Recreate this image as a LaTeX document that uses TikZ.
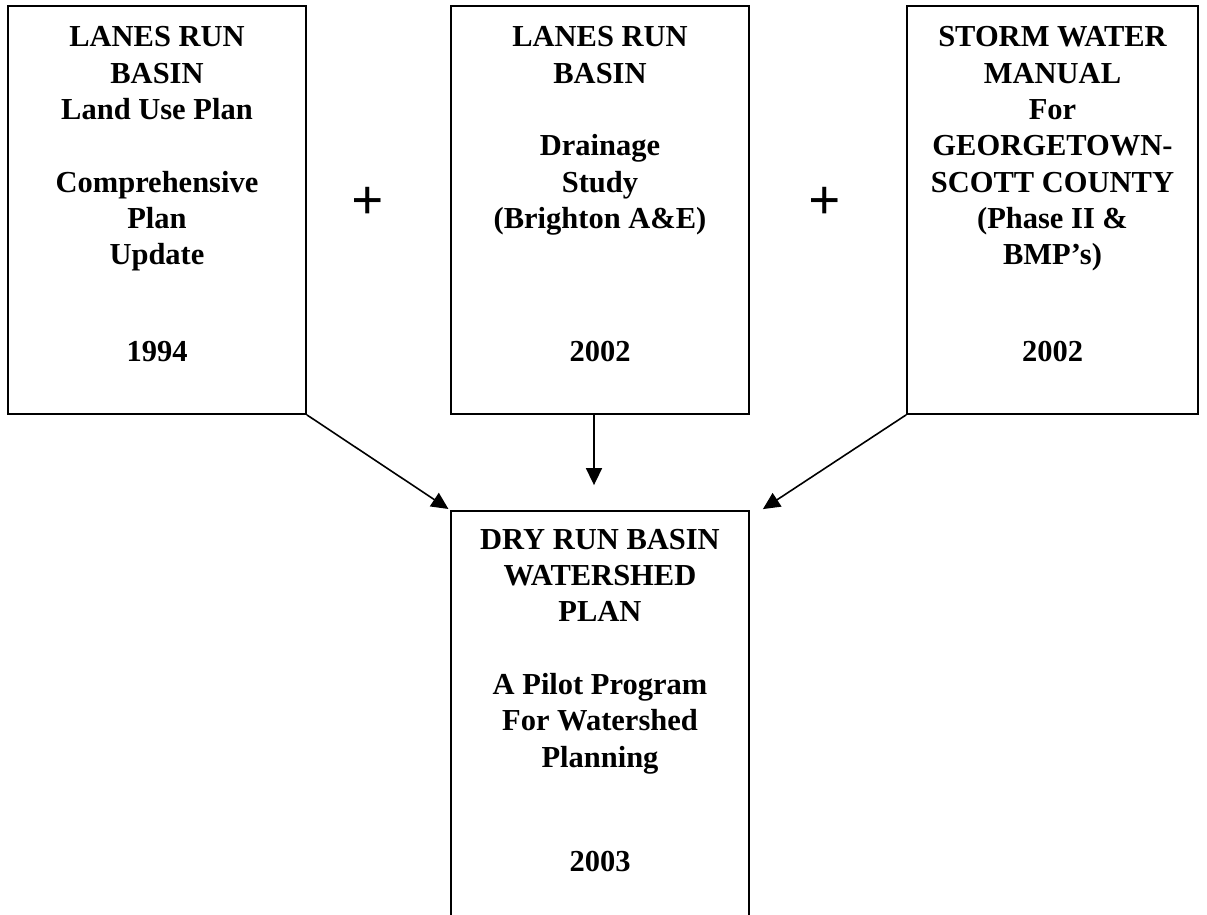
\documentclass[tikz,border=0pt]{standalone}
\usepackage{fontspec}
\setmainfont{Liberation Serif}
\usetikzlibrary{arrows.meta}
\newcommand{\planstrut}{\rule{0pt}{25pt}}

\begin{document}
\begin{tikzpicture}[x=1pt,y=1pt,
  planbox/.style={draw=black,line width=1.8pt,minimum width=298pt,minimum height=408pt,inner sep=0pt},
  plantext/.style={anchor=north,align=center,inner sep=0pt,font=\fontsize{30.5}{36.3}\selectfont\bfseries},
  planyear/.style={anchor=base,inner sep=0pt,font=\fontsize{30.5}{36.3}\selectfont\bfseries},
  plussign/.style={inner sep=0pt,font=\fontsize{57}{60}\selectfont\bfseries},
  feed/.style={-{Triangle[length=17pt,width=16pt]},line width=1.6pt}]
\clip (0,0) rectangle (1207,-915);
% the three sources
\node[planbox] (lanes) at (157,-210) {};
\node[planbox] (drain) at (600,-210) {};
\node[planbox,minimum width=291pt] (storm) at (1052.5,-210) {};
\node[plantext] (lanestxt) at ([yshift=-16.5pt]lanes.north) {\planstrut LANES RUN\\BASIN\\Land Use Plan\\[36.3pt]Comprehensive\\Plan\\Update};
\node[plantext] (draintxt) at ([yshift=-16.5pt]drain.north) {\planstrut LANES RUN\\BASIN\\[36.3pt]Drainage\\Study\\(Brighton A\&E)};
\node[plantext] (stormtxt) at ([yshift=-16.5pt]storm.north) {\planstrut STORM WATER\\MANUAL\\For\\GEORGETOWN-\\SCOTT COUNTY\\(Phase II \&\\BMP’s)};
\node[planyear] (lanesyr) at ([yshift=-356pt]lanes.north) {1994};
\node[planyear] (drainyr) at ([yshift=-356pt]drain.north) {2002};
\node[planyear] (stormyr) at ([yshift=-356pt]storm.north) {2002};
\node[plussign] (plusA) at (368,-203) {+};
\node[plussign] (plusB) at (825,-203) {+};
% the result
\node[planbox] (dry) at (600,-715) {};
\node[plantext] (drytxt) at ([yshift=-14pt]dry.north) {\planstrut DRY RUN BASIN\\WATERSHED\\PLAN\\[36.3pt]A Pilot Program\\For Watershed\\Planning};
\node[planyear] (dryyr) at ([yshift=-361pt]dry.north) {2003};
\coordinate (dryright) at ([xshift=13pt,yshift=1pt]dry.north east);
\draw[feed,shorten >=2pt] (lanes.south east) -- (dry.north west);
\draw[feed] ([xshift=-6pt]drain.south) -- ([xshift=-6pt,yshift=25pt]dry.north);
\draw[feed] (storm.south west) -- (dryright);
\end{tikzpicture}
\end{document}
